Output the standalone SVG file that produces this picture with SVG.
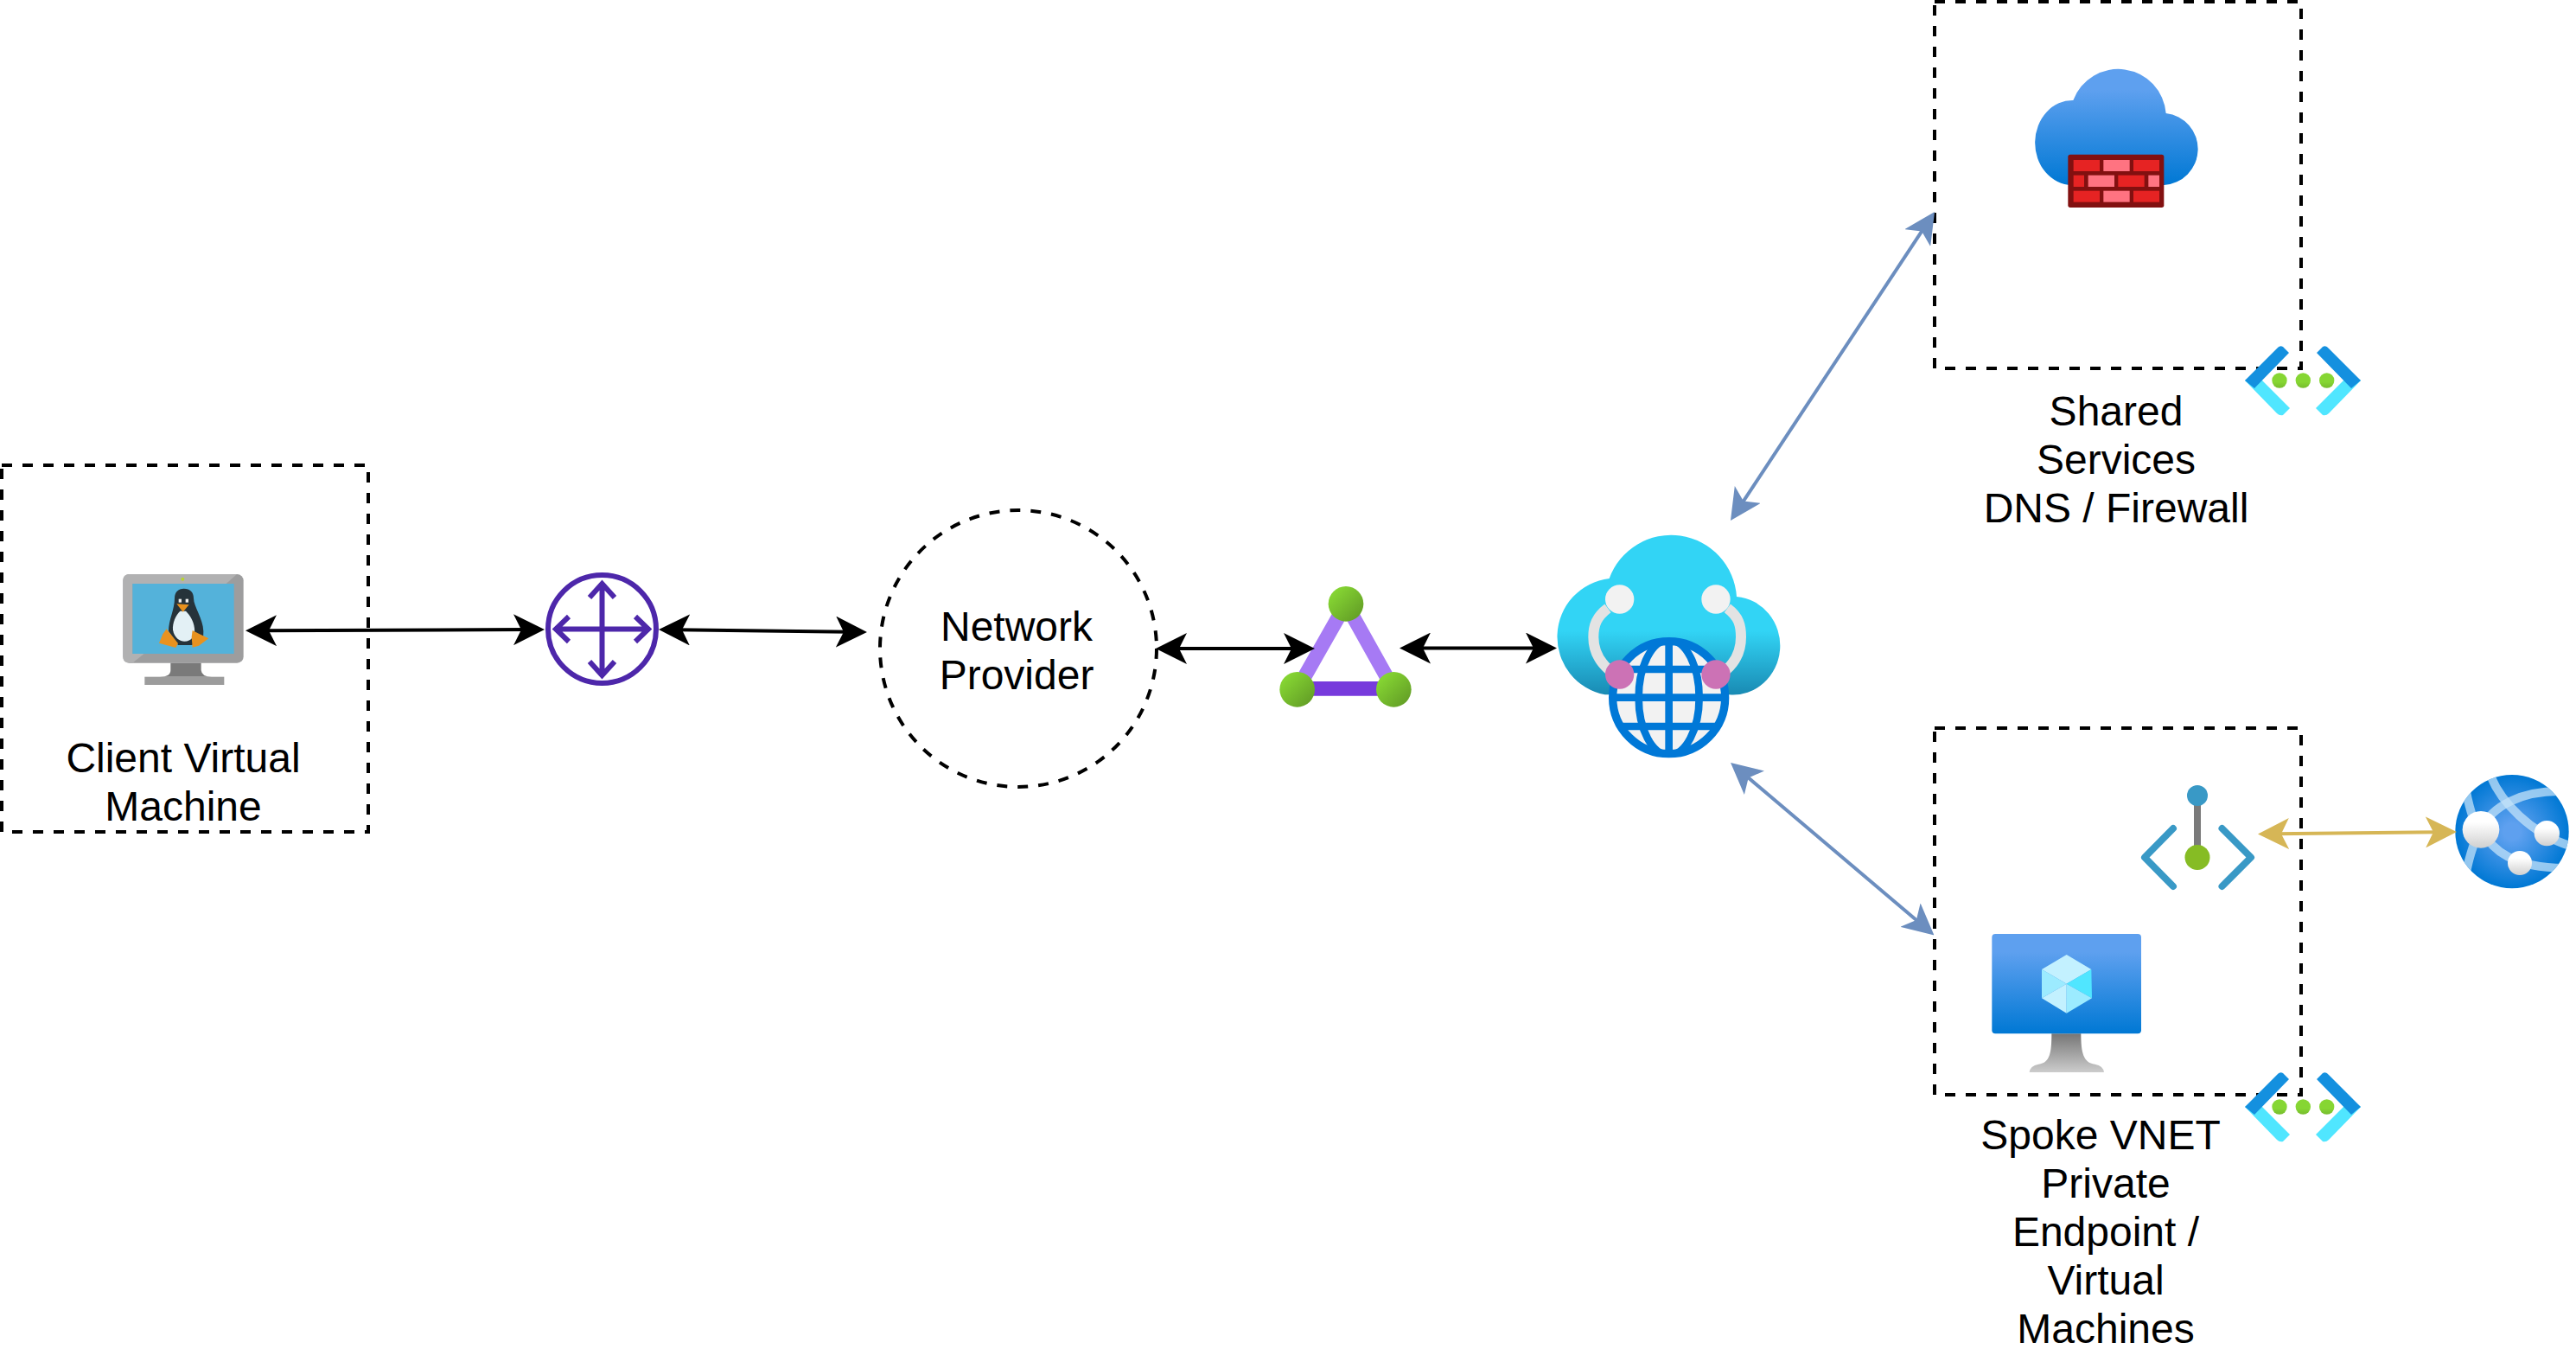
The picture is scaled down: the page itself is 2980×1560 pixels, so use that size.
<svg xmlns="http://www.w3.org/2000/svg" width="2980" height="1560" viewBox="0 0 2980 1560">
<style>
.box{fill:none;stroke:#000;stroke-width:4;stroke-dasharray:12 12}
.lbl{font-family:"Liberation Sans",Arial,sans-serif;font-size:48px;fill:#000;text-anchor:middle}
.cb{fill:none;stroke-width:4}
.k{stroke:#000}.b{stroke:#6c8ebf}.g{stroke:#d6b656}
.rt{fill:none;stroke:#4d27aa;stroke-width:6}
.ds{fill:#1490df}.lt{fill:#50e6ff}
.red{fill:#e62323}.pink{fill:#ff7381}
.ep{fill:none;stroke:#3999c6;stroke-width:8;stroke-linecap:round;stroke-linejoin:round}
</style>
<defs>
<marker id="ak" markerUnits="userSpaceOnUse" markerWidth="36" markerHeight="36" refX="16" refY="18" orient="auto-start-reverse"><path d="M36,18 L0,0 L9,18 L0,36 Z" fill="#000"/></marker>
<marker id="ab" markerUnits="userSpaceOnUse" markerWidth="36" markerHeight="36" refX="16" refY="18" orient="auto-start-reverse"><path d="M36,18 L0,0 L9,18 L0,36 Z" fill="#6c8ebf"/></marker>
<marker id="ag" markerUnits="userSpaceOnUse" markerWidth="36" markerHeight="36" refX="16" refY="18" orient="auto-start-reverse"><path d="M36,18 L0,0 L9,18 L0,36 Z" fill="#d6b656"/></marker>
<linearGradient id="gBlue" x1="0" y1="0" x2="0" y2="1"><stop offset="0.18" stop-color="#5ea0ef"/><stop offset="1" stop-color="#0078d4"/></linearGradient>
<linearGradient id="gCyan" x1="0" y1="0" x2="0" y2="1"><stop offset="0.6" stop-color="#32d4f5"/><stop offset="1" stop-color="#198ab3"/></linearGradient>
<linearGradient id="gGreen" x1="0" y1="0" x2="1" y2="1"><stop offset="0.15" stop-color="#86d633"/><stop offset="1" stop-color="#5e9624"/></linearGradient>
<linearGradient id="gDot" x1="0" y1="0" x2="0" y2="1"><stop offset="0.6" stop-color="#86d633"/><stop offset="1" stop-color="#76bc2d"/></linearGradient>
<linearGradient id="gStand" x1="0" y1="0" x2="0" y2="1"><stop offset="0" stop-color="#767676"/><stop offset="1" stop-color="#cccccc"/></linearGradient>
<linearGradient id="gNode" x1="0" y1="0" x2="0" y2="1"><stop offset="0.3" stop-color="#ffffff"/><stop offset="1" stop-color="#d0d0d0"/></linearGradient>
<radialGradient id="gWeb" cx="0.5" cy="0.5" r="0.5"><stop offset="0.15" stop-color="#5ea0ef"/><stop offset="1" stop-color="#0078d4"/></radialGradient>
<clipPath id="cWeb"><circle cx="258" cy="245" r="197"/></clipPath>
<clipPath id="cGlobe"><circle cx="452" cy="620" r="200"/></clipPath>
<g id="vnetIcon">
<path class="lt" d="M2597,0 L2608,-9 L2649,32 L2641,40 Q2637,41 2634,38 Z"/>
<path class="ds" d="M2597,0 L2634,-37 Q2637,-41 2641,-39 L2648,-32 L2608,9 Z"/>
<path class="lt" d="M2731,0 L2720,-9 L2679,32 L2687,40 Q2691,41 2694,38 Z"/>
<path class="ds" d="M2731,0 L2694,-37 Q2691,-41 2687,-39 L2680,-32 L2720,9 Z"/>
<circle style="fill:url(#gDot)" cx="2637" cy="0" r="8.7"/>
<circle style="fill:url(#gDot)" cx="2664.3" cy="0" r="8.7"/>
<circle style="fill:url(#gDot)" cx="2691.7" cy="0" r="8.7"/>
</g>
</defs>

<g id="client-box"><path class="box" d="M2,538 H426 V962 H2 Z"/>
<text class="lbl" x="212" y="893">Client Virtual</text>
<text class="lbl" x="212" y="949">Machine</text></g>

<g id="shared-box"><path class="box" d="M2238,2 H2662 V426 H2238 Z"/>
<text class="lbl" x="2448" y="492">Shared</text>
<text class="lbl" x="2448" y="548">Services</text>
<text class="lbl" x="2448" y="604">DNS / Firewall</text></g>

<g id="spoke-box"><path class="box" d="M2238,842 H2662 V1266 H2238 Z"/>
<text class="lbl" x="2430" y="1329">Spoke VNET</text>
<text class="lbl" x="2436" y="1385">Private</text>
<text class="lbl" x="2436" y="1441">Endpoint /</text>
<text class="lbl" x="2436" y="1497">Virtual</text>
<text class="lbl" x="2436" y="1553">Machines</text></g>

<g id="network-provider"><ellipse class="box" cx="1178" cy="750" rx="160" ry="160"/>
<text class="lbl" x="1176" y="741">Network</text>
<text class="lbl" x="1176" y="797">Provider</text></g>

<g id="linux-vm" transform="translate(120,640) scale(0.33333)">
<rect x="67" y="72" width="418" height="308" rx="22" fill="#9d9d9e"/>
<path d="M462,72 L89,72 Q67,72 67,94 L67,358 Q67,380 89,380 L100,380 L140,348 L100,348 L100,105 L425,105 Z" fill="#b1b1b2"/>
<rect x="100" y="105" width="352" height="243" fill="#54b2da"/>
<circle cx="274" cy="89" r="6" fill="#b8d432"/>
<path d="M278,122 C300,122 312,135 312,155 C312,185 345,225 346,270 L345,300 L305,318 L258,318 L225,270 C225,230 246,195 246,155 C246,135 258,122 278,122Z" fill="#26333a"/>
<path d="M265,200 C250,215 238,240 240,265 C245,295 265,305 280,305 C305,305 318,285 315,260 C312,235 300,215 285,200 Z" fill="#e3f0f5"/>
<rect x="260" y="158" width="10" height="12" fill="#f0f0f0"/><rect x="284" y="158" width="10" height="12" fill="#f0f0f0"/>
<path d="M253,175 L296,178 L275,203 Z" fill="#e8911e"/>
<path d="M218,262 L258,312 L250,327 L192,311 L205,280 Z" fill="#e8921f"/>
<path d="M308,267 L330,278 L364,295 L330,320 L308,326 L305,290 Z" fill="#e8921f"/>
<path d="M232,380 L338,380 L338,405 Q340,428 375,428 L195,428 Q232,428 232,405 Z" fill="#7a7a7a"/>
<rect x="142" y="428" width="276" height="28" fill="#9c9c9c"/>
</g>

<g id="router">
<circle class="rt" cx="696.5" cy="727.5" r="62.5"/>
<path class="rt" d="M696.5,675 V781 M643,727.5 H750 M682,691 L696.5,675 L711,691 M682,765 L696.5,781 L711,765 M658,713 L643,727.5 L658,742 M735,713 L750,727.5 L735,742"/>
</g>

<g id="peering" transform="translate(1470,670) scale(0.33333)">
<path d="M261,85 L92,382 M261,85 L427,382" fill="none" stroke="#a67af4" stroke-width="50"/>
<path d="M92,379 H427" fill="none" stroke="#773adc" stroke-width="50"/>
<circle cx="261" cy="85" r="61" fill="url(#gGreen)"/>
<circle cx="92" cy="382" r="61" fill="url(#gGreen)"/>
<circle cx="427" cy="382" r="61" fill="url(#gGreen)"/>
</g>

<g id="virtual-wan" transform="translate(1780,600) scale(0.33333)">
<path d="M245,207 A228,228 0 0 1 687,270 A163,170 0 0 1 662,610 L230,610 A204,204 0 0 1 245,207 Z" fill="url(#gCyan)"/>
<path d="M240,310 C200,340 190,370 190,410 C190,450 205,490 245,525 M655,310 C695,340 702,370 702,410 C702,450 690,490 650,525" fill="none" stroke="#e3e3e3" stroke-width="36"/>
<circle cx="452" cy="620" r="195" fill="#f2f2f2" stroke="#0078d7" stroke-width="28"/>
<g clip-path="url(#cGlobe)" fill="none" stroke="#0078d7" stroke-width="26">
<path d="M452,412 V828 M240,522 H660 M240,620 H660 M240,720 H660"/>
<ellipse cx="452" cy="620" rx="105" ry="200"/>
</g>
<circle cx="281" cy="540" r="50" fill="#cc72b5"/><circle cx="615" cy="540" r="50" fill="#cc72b5"/>
<circle cx="281" cy="279" r="50" fill="#f2f2f2"/><circle cx="615" cy="279" r="50" fill="#f2f2f2"/>
</g>

<g id="firewall" transform="translate(2340,60) scale(0.33333)">
<path d="M175,168 A166.500,166.500 0 0 1 497,213 A125,125 0 0 1 490,462 L170,462 A130,147 0 0 1 175,168 Z" fill="url(#gBlue)"/>
<rect x="157" y="356" width="333" height="184" rx="8" fill="#821010"/>
<rect class="red" x="176" y="375" width="91" height="39"/><rect class="pink" x="280" y="375" width="91" height="39"/><rect class="red" x="384" y="375" width="90" height="39"/>
<rect class="red" x="176" y="428" width="37" height="40"/><rect class="pink" x="227" y="428" width="91" height="40"/><rect class="red" x="331" y="428" width="91" height="40"/><rect class="pink" x="436" y="428" width="38" height="40"/>
<rect class="red" x="176" y="482" width="91" height="39"/><rect class="pink" x="280" y="482" width="91" height="39"/><rect class="red" x="384" y="482" width="90" height="39"/>
</g>

<g id="vnet-shared"><use href="#vnetIcon" y="440"/></g>
<g id="vnet-spoke"><use href="#vnetIcon" y="1280"/></g>

<g id="private-endpoint">
<path class="ep" d="M2514,958 L2481,991.500 L2514,1025 M2570.500,958 L2604,991.500 L2570.500,1025"/>
<rect x="2538" y="925" width="8" height="60" fill="#7a7a7a"/>
<circle cx="2542" cy="920" r="12" fill="#3999c6"/>
<circle cx="2542" cy="991.500" r="14.500" fill="#86bc24"/>
</g>

<g id="vm" transform="translate(2290,1070) scale(0.33333)">
<path d="M250,376 H352 C352,440 360,478 400,482 Q430,488 432,510 H173 Q175,488 205,482 C245,478 250,440 250,376 Z" fill="url(#gStand)"/>
<rect x="43" y="30" width="518" height="346" rx="12" fill="url(#gBlue)"/>
<path d="M302,102 L388,153 L302,203 L216,153 Z" fill="#c3f1ff"/>
<path d="M216,153 L302,203 L216,253 Z" fill="#9cebff"/>
<path d="M388,153 L390,253 L302,203 Z" fill="#50e6ff"/>
<path d="M216,253 L302,203 V305 Z" fill="#c3f1ff"/>
<path d="M302,203 L390,253 L302,305 Z" fill="#9cebff"/>
</g>

<g id="web-app" transform="translate(2820,880) scale(0.33333)">
<circle cx="258" cy="245" r="197" fill="url(#gWeb)"/>
<g clip-path="url(#cWeb)" fill="none" stroke="#c3e1f8" stroke-opacity="0.75" stroke-width="30">
<path d="M185,55 C220,140 320,250 460,295"/>
<path d="M420,105 C300,105 190,150 150,238"/>
<path d="M150,238 C190,310 260,370 440,372"/>
<path d="M100,110 C110,170 125,200 135,238"/>
<path d="M125,290 C115,320 105,350 100,385"/>
</g>
<circle cx="150" cy="238" r="64" fill="url(#gNode)"/>
<circle cx="379" cy="251" r="44" fill="url(#gNode)"/>
<circle cx="285" cy="354" r="42" fill="url(#gNode)"/>
</g>

<g id="connectors">
<line class="cb k" x1="304" y1="729.200" x2="610" y2="728.100" marker-start="url(#ak)" marker-end="url(#ak)"/>
<line class="cb k" x1="782" y1="728.200" x2="983" y2="730.800" marker-start="url(#ak)" marker-end="url(#ak)"/>
<line class="cb k" x1="1357" y1="750" x2="1501" y2="750" marker-start="url(#ak)" marker-end="url(#ak)"/>
<line class="cb k" x1="1639" y1="749.500" x2="1781" y2="749.500" marker-start="url(#ak)" marker-end="url(#ak)"/>
<line class="cb b" x1="2013" y1="585.300" x2="2227" y2="261.700" marker-start="url(#ab)" marker-end="url(#ab)"/>
<line class="cb b" x1="2017.300" y1="894.900" x2="2222.200" y2="1068.500" marker-start="url(#ab)" marker-end="url(#ab)"/>
<line class="cb g" x1="2632" y1="964.300" x2="2822" y2="962.200" marker-start="url(#ag)" marker-end="url(#ag)"/>
</g>
</svg>
